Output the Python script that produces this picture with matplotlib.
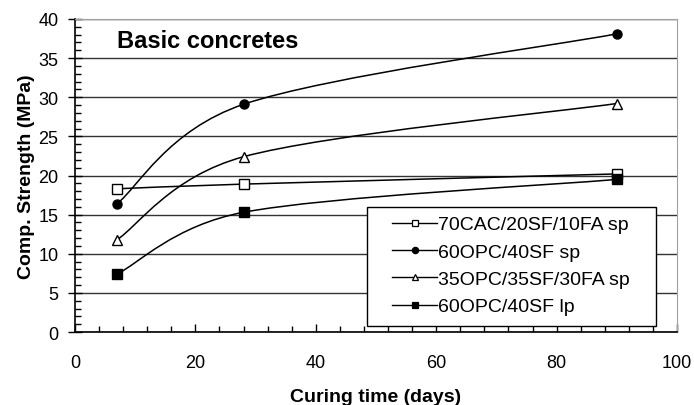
import numpy as np
import matplotlib
matplotlib.use("Agg")
import matplotlib.pyplot as plt
from matplotlib.path import Path
from matplotlib.patches import PathPatch, Rectangle
from matplotlib.ticker import MultipleLocator
from matplotlib.legend_handler import HandlerLine2D

plt.rcParams['font.family'] = ['Liberation Sans', 'DejaVu Sans']

days = [7, 28, 90]
cac_sf_fa_sp = [18.3, 18.9, 20.2]
opc_sf_sp = [16.4, 29.1, 38.1]
opc_sf_fa_sp = [11.8, 22.4, 29.2]
opc_sf_lp = [7.4, 15.3, 19.5]

labels = ['70CAC/20SF/10FA sp', '60OPC/40SF sp', '35OPC/35SF/30FA sp', '60OPC/40SF lp']
series = [cac_sf_fa_sp, opc_sf_sp, opc_sf_fa_sp, opc_sf_lp]
markers = ['s', 'o', '^', 's']
faces = ['white', 'black', 'white', 'black']

W, H = 694, 406
L, R, T, B = 75, 677, 20, 333   # plot area in pixels


def smooth_path(x, y, sx, sy):
    # Excel-style smoothed line: bezier pieces, worked out in pixel space
    p = np.column_stack([np.asarray(x) * sx, np.asarray(y) * sy]).astype(float)
    n = len(p)
    verts = [p[0]]
    codes = [Path.MOVETO]
    for i in range(n - 1):
        prev = p[i - 1] if i > 0 else p[i]
        nxt = p[i + 2] if i + 2 < n else p[i + 1]
        half = np.linalg.norm(p[i + 1] - p[i]) / 2
        d1 = (p[i + 1] - prev) / 6
        d2 = (nxt - p[i]) / 6
        if np.linalg.norm(d1) > half:
            d1 = d1 * half / np.linalg.norm(d1)
        if np.linalg.norm(d2) > half:
            d2 = d2 * half / np.linalg.norm(d2)
        verts += [p[i] + d1, p[i + 1] - d2, p[i + 1]]
        codes += [Path.CURVE4] * 3
    verts = np.array(verts) / [sx, sy]
    return Path(verts, codes)


fig = plt.figure(figsize=(W / 100, H / 100), dpi=100)
ax = fig.add_axes([L / W, 1 - B / H, (R - L) / W, (B - T) / H])
ax.set_xlim(0, 100)
ax.set_ylim(0, 40)
sx = (R - L) / 100
sy = (B - T) / 40

handles = []
for vals, lab, m, fc in zip(series, labels, markers, faces):
    ax.add_patch(PathPatch(smooth_path(days, vals, sx, sy), fill=False, lw=1.1,
                           edgecolor='black', zorder=3))
    ms = 7.5 if m == '^' else 6.5
    ax.plot(days, vals, ls='none', marker=m, ms=ms, mfc=fc, mec='black',
            mew=1.0, zorder=4, clip_on=False)
    h, = ax.plot([], [], color='black', lw=1.0, marker=m, ms=4.5, mfc=fc,
                 mec='black', mew=0.9, label=lab)
    handles.append(h)

ax.xaxis.set_major_locator(MultipleLocator(20))
ax.xaxis.set_minor_locator(MultipleLocator(4))
ax.yaxis.set_major_locator(MultipleLocator(5))
ax.yaxis.set_minor_locator(MultipleLocator(1))
ax.tick_params(axis='x', which='major', direction='in', length=6, width=1,
               labelsize=13, pad=16)
ax.tick_params(axis='x', which='minor', direction='in', length=4, width=1)
ax.tick_params(axis='y', which='major', direction='inout', length=10, width=1,
               labelsize=13, pad=7)
ax.tick_params(axis='y', which='minor', direction='in', length=4, width=1)
ax.grid(axis='y', which='major', color='#333333', lw=1)
ax.set_axisbelow(True)

for s in ['top', 'right']:
    ax.spines[s].set_color('#a0a0a0')
for s in ['left', 'bottom']:
    ax.spines[s].set_color('black')
    ax.spines[s].set_linewidth(1.2)

ax.set_xlabel('Curing time (days)', fontsize=14, fontweight='bold', labelpad=12)
ax.set_ylabel('Comp. Strength (MPa)', fontsize=14, fontweight='bold', labelpad=2)
ax.text((117 - L) / (R - L), (B - 42) / (B - T), 'Basic concretes',
        transform=ax.transAxes, fontsize=17, fontweight='bold',
        va='center', ha='left')

# legend box
bx0, bx1, by0, by1 = 367, 656, 208, 327
ax.add_patch(Rectangle(((bx0 - L) / (R - L), (B - by1) / (B - T)),
                       (bx1 - bx0) / (R - L), (by1 - by0) / (B - T),
                       transform=ax.transAxes, facecolor='white',
                       edgecolor='black', lw=1.0, zorder=5, clip_on=False))
fs = 14
leg = ax.legend(handles=handles, loc='upper left',
                bbox_to_anchor=((bx0 - L) / (R - L), (B - by0 - 3) / (B - T)),
                fontsize=fs, frameon=False, borderaxespad=0,
                handlelength=3.3, handletextpad=0.05, borderpad=0.3,
                labelspacing=0.5,
                handler_map={h: HandlerLine2D(xpad=1.0) for h in handles})
leg.set_zorder(6)

fig.savefig('out.png', dpi=100)
